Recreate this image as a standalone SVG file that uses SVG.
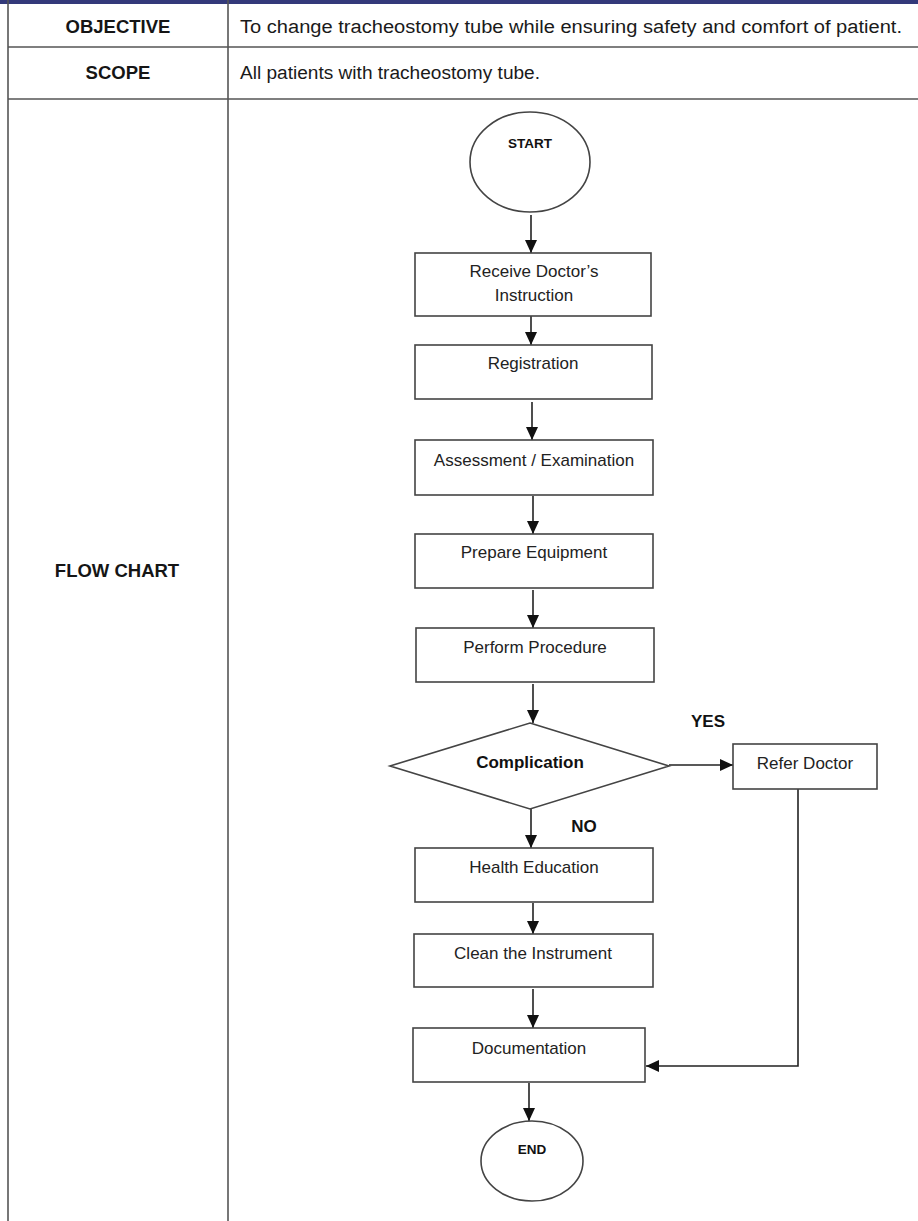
<svg xmlns="http://www.w3.org/2000/svg" width="918" height="1221" viewBox="0 0 918 1221">
  <style>
    .grid { stroke: #555; stroke-width: 1.6; fill: none; }
    .hdr { font-family: "Liberation Sans", Arial, sans-serif; font-weight: bold; font-size: 18.5px; fill: #151515; text-anchor: middle; }
    .cell { font-family: "Liberation Sans", Arial, sans-serif; font-size: 18px; fill: #1a1a1a; }
    .box { fill: #fff; stroke: #444; stroke-width: 1.6; }
    .lbl { font-family: "Liberation Sans", Arial, sans-serif; font-size: 17px; fill: #222; text-anchor: middle; }
    .blbl { font-family: "Liberation Sans", Arial, sans-serif; font-weight: bold; font-size: 17px; fill: #111; text-anchor: middle; }
    .term { font-family: "Liberation Sans", Arial, sans-serif; font-weight: bold; font-size: 13.5px; fill: #111; text-anchor: middle; }
    .conn { stroke: #222; stroke-width: 1.6; fill: none; marker-end: url(#arrow); }
  </style>
  <defs>
    <marker id="arrow" markerUnits="userSpaceOnUse" markerWidth="14" markerHeight="12" refX="13" refY="6" orient="auto">
      <path d="M0,0 L13,6 L0,12 Z" fill="#111"/>
    </marker>
  </defs>

  <rect width="918" height="1221" fill="#fff"/>

  <!-- table frame -->
  <g id="table">
    <rect x="0" y="0" width="918" height="4" fill="#33397a"/>
    <line class="grid" x1="8" y1="0" x2="8" y2="1221"/>
    <line class="grid" x1="228" y1="0" x2="228" y2="1221"/>
    <line class="grid" x1="8" y1="47" x2="918" y2="47"/>
    <line class="grid" x1="8" y1="99" x2="918" y2="99"/>
    <text class="hdr" x="118" y="33">OBJECTIVE</text>
    <text class="cell" x="240" y="33" textLength="662" lengthAdjust="spacingAndGlyphs">To change tracheostomy tube while ensuring safety and comfort of patient.</text>
    <text class="hdr" x="118" y="79">SCOPE</text>
    <text class="cell" x="240" y="79" textLength="300" lengthAdjust="spacingAndGlyphs">All patients with tracheostomy tube.</text>
    <text class="hdr" x="117" y="577">FLOW CHART</text>
  </g>

  <!-- connectors -->
  <g id="connectors">
    <line class="conn" x1="531" y1="215" x2="531" y2="253"/>
    <line class="conn" x1="531" y1="316" x2="531" y2="345"/>
    <line class="conn" x1="532" y1="402" x2="532" y2="440"/>
    <line class="conn" x1="533" y1="496" x2="533" y2="534"/>
    <line class="conn" x1="533" y1="590" x2="533" y2="628"/>
    <line class="conn" x1="533" y1="684" x2="533" y2="723"/>
    <line class="conn" x1="531" y1="809" x2="531" y2="848"/>
    <line class="conn" x1="533" y1="903" x2="533" y2="934"/>
    <line class="conn" x1="533" y1="989" x2="533" y2="1028"/>
    <line class="conn" x1="529" y1="1083" x2="529" y2="1121"/>
    <line class="conn" x1="669" y1="765" x2="733" y2="765"/>
    <polyline class="conn" points="798,789 798,1066 646,1066"/>
    <text class="blbl" x="708" y="727">YES</text>
    <text class="blbl" x="584" y="832">NO</text>
  </g>

  <g id="start">
    <ellipse class="box" cx="530" cy="162" rx="60" ry="50"/>
    <text class="term" x="530" y="148">START</text>
  </g>

  <g id="receive">
    <rect class="box" x="415" y="253" width="236" height="63"/>
    <text class="lbl" x="534" y="277">Receive Doctor’s</text>
    <text class="lbl" x="534" y="301">Instruction</text>
  </g>

  <g id="registration">
    <rect class="box" x="415" y="345" width="237" height="54"/>
    <text class="lbl" x="533" y="369">Registration</text>
  </g>

  <g id="assessment">
    <rect class="box" x="415" y="440" width="238" height="55"/>
    <text class="lbl" x="534" y="466">Assessment / Examination</text>
  </g>

  <g id="prepare">
    <rect class="box" x="415" y="534" width="238" height="54"/>
    <text class="lbl" x="534" y="558">Prepare Equipment</text>
  </g>

  <g id="perform">
    <rect class="box" x="416" y="628" width="238" height="54"/>
    <text class="lbl" x="535" y="653">Perform Procedure</text>
  </g>

  <g id="complication">
    <polygon class="box" points="530,723 669,766 530,809 390,766"/>
    <text class="blbl" x="530" y="768">Complication</text>
  </g>

  <g id="refer">
    <rect class="box" x="733" y="744" width="144" height="45"/>
    <text class="lbl" x="805" y="769">Refer Doctor</text>
  </g>

  <g id="education">
    <rect class="box" x="415" y="848" width="238" height="54"/>
    <text class="lbl" x="534" y="873">Health Education</text>
  </g>

  <g id="clean">
    <rect class="box" x="414" y="934" width="239" height="53"/>
    <text class="lbl" x="533" y="959">Clean the Instrument</text>
  </g>

  <g id="documentation">
    <rect class="box" x="413" y="1028" width="232" height="54"/>
    <text class="lbl" x="529" y="1054">Documentation</text>
  </g>

  <g id="end">
    <ellipse class="box" cx="532" cy="1161" rx="51" ry="40"/>
    <text class="term" x="532" y="1154">END</text>
  </g>
</svg>
